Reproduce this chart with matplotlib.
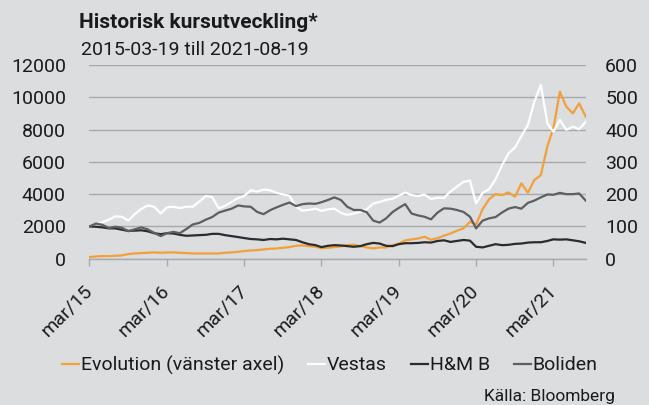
import matplotlib
matplotlib.use("Agg")
import matplotlib.pyplot as plt
import pandas as pd
from matplotlib import font_manager

# ---------------- data (monthly readings, 2015-03-19 .. 2021-08-19) ----------------
start_date = "2015-03-19"
end_date = "2021-08-19"
n_points = 78

evolution = [100, 141, 161, 161, 182, 203, 286, 327, 347, 368, 389, 368, 389, 389, 368, 347,
             327, 327, 327, 327, 327, 368, 389, 430, 471, 512, 533, 574, 616, 636, 678, 719,
             802, 822, 781, 740, 657, 678, 719, 760, 843, 864, 781, 698, 636, 698, 698, 843,
             926, 1132, 1194, 1256, 1360, 1174, 1277, 1422, 1566, 1731, 1876, 2289, 2124, 3074,
             3673, 4004, 3942, 4107, 3839, 4665, 4087, 4872, 5182, 6979, 8074, 10346, 9417,
             9004, 9624, 8797]
vestas = [100, 108, 113, 121, 131, 130, 118, 138, 154, 165, 161, 140, 159, 161, 157, 161,
          161, 177, 194, 191, 156, 164, 176, 188, 194, 212, 208, 214, 212, 204, 199, 195,
          161, 149, 151, 155, 148, 153, 155, 142, 136, 140, 145, 153, 171, 176, 182, 186,
          195, 205, 197, 194, 199, 185, 189, 188, 208, 223, 238, 242, 171, 204, 215, 246,
          289, 326, 345, 380, 414, 486, 538, 419, 393, 430, 399, 409, 401, 424]
hm = [100, 99, 97, 94, 94, 90, 86, 87, 88, 85, 79, 76, 79, 78, 74, 71,
      72, 73, 74, 77, 77, 73, 70, 67, 64, 61, 60, 58, 61, 60, 62, 60,
      58, 51, 45, 42, 36, 40, 42, 41, 39, 37, 39, 45, 49, 47, 40, 39,
      45, 48, 48, 49, 51, 50, 55, 57, 52, 55, 58, 56, 37, 35, 40, 45,
      42, 43, 46, 47, 50, 51, 51, 55, 60, 59, 60, 57, 54, 49]
boliden = [100, 109, 105, 95, 99, 96, 85, 91, 97, 91, 80, 70, 79, 83, 79, 92,
           106, 111, 121, 129, 143, 149, 155, 165, 162, 161, 145, 138, 150, 159, 167, 174,
           163, 169, 171, 170, 175, 182, 190, 182, 161, 151, 151, 144, 118, 112, 125, 145,
           157, 169, 140, 134, 130, 122, 143, 156, 155, 151, 145, 130, 94, 118, 125, 129,
           143, 155, 160, 155, 173, 180, 190, 199, 198, 204, 200, 200, 202, 180]

labels = ["Evolution (vänster axel)", "Vestas", "H&M B", "Boliden"]
tick_labels = ["mar/15", "mar/16", "mar/17", "mar/18", "mar/19", "mar/20", "mar/21"]
left_ticks = [0, 2000, 4000, 6000, 8000, 10000, 12000]
right_ticks = [0, 100, 200, 300, 400, 500, 600]
title = "Historisk kursutveckling*"
subtitle = "2015-03-19 till 2021-08-19"
source = "Källa: Bloomberg"

# ---------------- style ----------------
avail = {f.name for f in font_manager.fontManager.ttflist}
fam = next((f for f in ["Roboto", "DejaVu Sans"] if f in avail), "DejaVu Sans")
plt.rcParams["font.family"] = [fam, "DejaVu Sans"]

BG = "#dcdddf"
GRID = "#a8a9ab"
C_EVO = "#f2a03a"
C_VES = "#ffffff"
C_HM = "#2b2b2b"
C_BOL = "#5e5e5e"
TXT = "#1a1a1a"
FS = 14

dates = pd.date_range(start_date, periods=n_points, freq=pd.DateOffset(months=1))
tick_dates = [pd.Timestamp(start_date) + pd.DateOffset(years=i) for i in range(len(tick_labels))]

fig = plt.figure(figsize=(6.49, 4.05), dpi=100, facecolor=BG)
ax = fig.add_axes([0.1378, 0.3612, 0.7647, 0.4783])
ax.set_facecolor(BG)
ax2 = ax.twinx()

ax.set_ylim(0, 12000)
ax2.set_ylim(0, 600)
ax.set_xlim(pd.Timestamp(start_date), pd.Timestamp(end_date))
ax.set_yticks(left_ticks)
ax2.set_yticks(right_ticks)
ax.yaxis.grid(True, color=GRID, lw=1.0)
ax.set_axisbelow(True)

for a in (ax, ax2):
    for s in ("left", "right", "top"):
        a.spines[s].set_visible(False)
ax.spines["bottom"].set_color(GRID)
ax.spines["bottom"].set_linewidth(1.0)
ax2.spines["bottom"].set_visible(False)
ax.tick_params(axis="y", length=0, labelsize=FS, colors=TXT, pad=17)
ax2.tick_params(axis="y", length=0, labelsize=FS, colors=TXT, pad=14)
ax.tick_params(axis="x", length=5, width=1.0, color=GRID, labelsize=FS, labelcolor=TXT, pad=16)
ax.set_xticks(tick_dates)
ax.set_xticklabels(tick_labels, rotation=45, ha="right", va="center", rotation_mode="anchor")

l_evo, = ax.plot(dates, evolution, color=C_EVO, lw=1.6, label=labels[0])
l_ves, = ax2.plot(dates, vestas, color=C_VES, lw=1.6, label=labels[1])
l_hm, = ax2.plot(dates, hm, color=C_HM, lw=1.6, label=labels[2])
l_bol, = ax2.plot(dates, boliden, color=C_BOL, lw=1.6, label=labels[3])

fig.text(0.122, 0.930, title, fontsize=15, fontweight="bold", color=TXT, va="baseline", ha="left")
fig.text(0.125, 0.864, subtitle, fontsize=14, color=TXT, va="baseline", ha="left")
fig.text(0.9476, 0.022, source, fontsize=12.5, color=TXT, va="center", ha="right")

fig.legend(handles=[l_evo, l_ves, l_hm, l_bol], labels=labels, loc="center",
           bbox_to_anchor=(0.508, 0.0988), ncol=4, frameon=False, fontsize=FS,
           handlelength=0.87, handletextpad=0.1, columnspacing=1.23, labelcolor=TXT)

fig.savefig("out.png", dpi=100, facecolor=BG)
